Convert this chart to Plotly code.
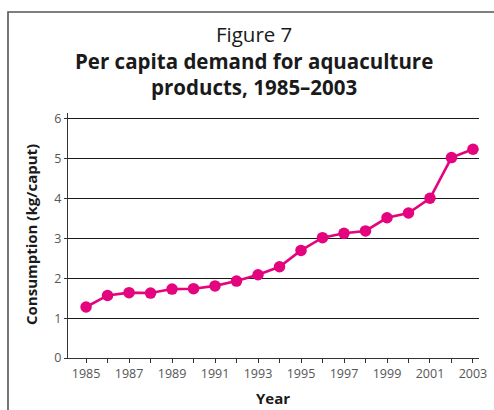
import plotly.graph_objects as go

# Per capita consumption of aquaculture products (kg/caput)
years = [1985, 1986, 1987, 1988, 1989, 1990, 1991, 1992, 1993, 1994,
         1995, 1996, 1997, 1998, 1999, 2000, 2001, 2002, 2003]
consumption = [1.28, 1.57, 1.64, 1.63, 1.73, 1.74, 1.81, 1.93, 2.09, 2.29,
               2.70, 3.02, 3.13, 3.19, 3.52, 3.64, 4.01, 5.03, 5.24]

x_tick_vals = years
x_tick_text = [str(y) if (y - 1985) % 2 == 0 else "" for y in years]
y_tick_vals = [0, 1, 2, 3, 4, 5, 6]

title_line1 = "Figure 7"
title_line2 = "Per capita demand for aquaculture"
title_line3 = "products, 1985–2003"
y_title = "Consumption (kg/caput)"
x_title = "Year"

W, H = 494, 410
ML, MR, MT, MB = 68, 15, 113, 52
PW, PH = W - ML - MR, H - MT - MB


def px_x(px):
    return (px - ML) / PW


def px_y(py):
    return (H - MB - py) / PH


MAGENTA = "#E4047E"
FONT = "Open Sans"
INK = "#1a1a1a"

fig = go.Figure()
fig.add_trace(go.Scatter(
    x=years, y=consumption,
    mode="lines+markers",
    line=dict(color=MAGENTA, width=2.6),
    marker=dict(color=MAGENTA, size=11.5),
    hoverinfo="x+y",
))


def label(text, cx, cy, size, angle=0):
    return dict(text=text, x=px_x(cx), y=px_y(cy), xref="paper", yref="paper",
                xanchor="center", yanchor="middle", textangle=angle,
                showarrow=False, font=dict(family=FONT, size=size, color=INK))


title_text = (title_line1 + "<br><b>" + title_line2 + "</b><br><b>"
              + title_line3 + "</b>")

annotations = [
    label(title_text, 254, 60.5, 20.5),
    label("<b>" + y_title + "</b>", 31, 235, 15, angle=-90),
    label("<b>" + x_title + "</b>", 273, 398, 15),
]

# open frame: left edge and top edge
frame = dict(
    type="path", xref="paper", yref="paper",
    path=f"M {px_x(8)},{px_y(H + 5)} L {px_x(8)},{px_y(12)} L {px_x(W + 5)},{px_y(12)}",
    line=dict(color="#555555", width=1.6),
)

fig.update_layout(
    width=W, height=H,
    margin=dict(l=ML, r=MR, t=MT, b=MB, autoexpand=False),
    paper_bgcolor="white", plot_bgcolor="white",
    showlegend=False,
    annotations=annotations,
    shapes=[frame],
    xaxis=dict(
        range=[1984.16, 2003.28],
        tickvals=x_tick_vals, ticktext=x_tick_text,
        ticks="outside", ticklen=4, tickwidth=1, tickcolor="#333333",
        showline=True, linecolor="#333333", linewidth=1.4,
        showgrid=False, zeroline=False,
        tickfont=dict(family=FONT, size=12.5, color="#555555"),
    ),
    yaxis=dict(
        range=[0, 6.15],
        tickvals=y_tick_vals,
        ticks="outside", ticklen=3, tickwidth=1, tickcolor="#333333",
        showline=True, linecolor="#333333", linewidth=1.4,
        showgrid=True, gridcolor="#1a1a1a", gridwidth=1.2,
        zeroline=False,
        tickfont=dict(family=FONT, size=12.5, color="#555555"),
    ),
)

fig.write_html("out.html")
